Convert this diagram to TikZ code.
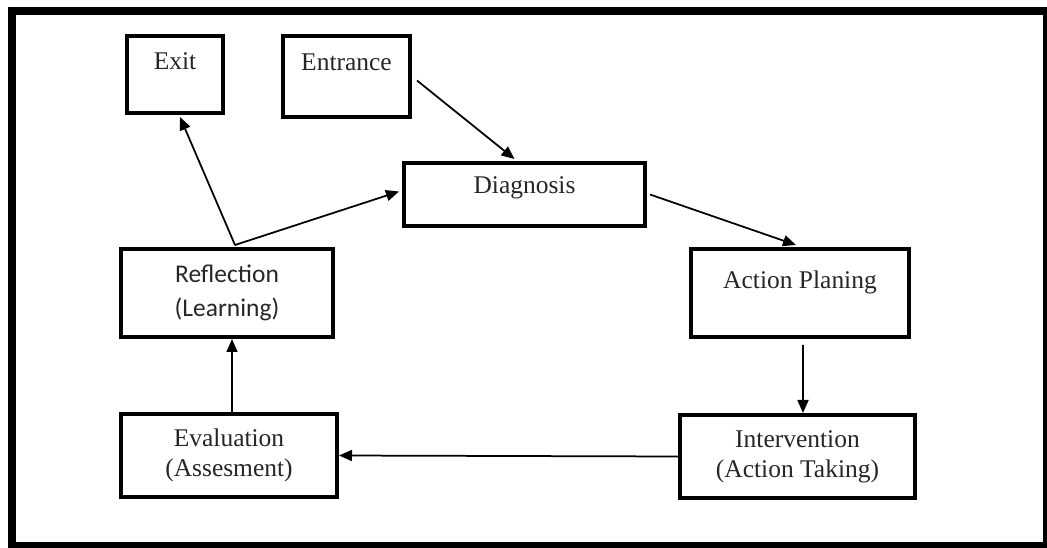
\documentclass[tikz,border=0pt]{standalone}
\usepackage{fontspec}
\setmainfont{Liberation Serif}
\newfontfamily\calibri{Carlito}
\usetikzlibrary{arrows.meta,calc}

\begin{document}
\begin{tikzpicture}[
 x=0.2mm,y=-0.2mm,
 bx/.style={draw,line width=0.8mm,anchor=north west,inner sep=0pt,align=center,text=black!85,font=\fontsize{14.5}{17}\selectfont},
 a/.style={-{Triangle[length=2.6mm,width=2.2mm]},line width=0.35mm}
]
\useasboundingbox (0,0) rectangle (1047,548);
\draw[line width=1.6mm] (12,11) rectangle (1047,546);
% boxes
\node[bx,minimum width=19.2mm,minimum height=15.4mm,text height=6.8mm,text depth=8.6mm] (exit) at (125,34) {Exit};
\node[bx,minimum width=25.4mm,minimum height=16.2mm,text height=7mm,text depth=9.2mm] (ent) at (281,34) {Entrance};
\node[bx,minimum width=48.2mm,minimum height=12.6mm,text height=6.2mm,text depth=6.4mm] (diag) at (402,161) {Diagnosis};
\node[bx,minimum width=43.6mm,minimum height=17.6mm,text height=8mm,text depth=9.6mm] (plan) at (689,247) {Action Planing};
\node[bx,minimum width=47mm,minimum height=16.6mm] (interv) at (678,413) {Intervention\\(Action Taking)};
\node[bx,minimum width=43.2mm,minimum height=16.6mm] (eval) at (119,412) {Evaluation\\(Assesment)};
\node[bx,minimum width=42.4mm,minimum height=17.6mm,font=\calibri\fontsize{14.5}{19}\selectfont] (refl) at (119,247) {Reflection\\(Learning)};
% arrows
\draw[a] ($(ent.east)+(5,4)$) -- ($(diag.north)+(-10,-2)$);
\draw[a] ($(diag.east)+(3,0)$) -- ($(plan.north)+(-4,-2)$);
\draw[a] ($(plan.south)+(3,6)$) -- ($(interv.north)+(5.5,0)$);
\draw[a] (interv.west) -- (eval.east);
\draw[a] ($(eval.north)+(3,0)$) -- ($(refl.south)+(5,0)$);
\draw[a] ($(refl.north)+(8,-2)$) -- ($(exit.south)+(5,2)$);
\draw[a] ($(refl.north)+(8,-2)$) -- ($(diag.west)+(-3,-3)$);
\end{tikzpicture}
\end{document}
